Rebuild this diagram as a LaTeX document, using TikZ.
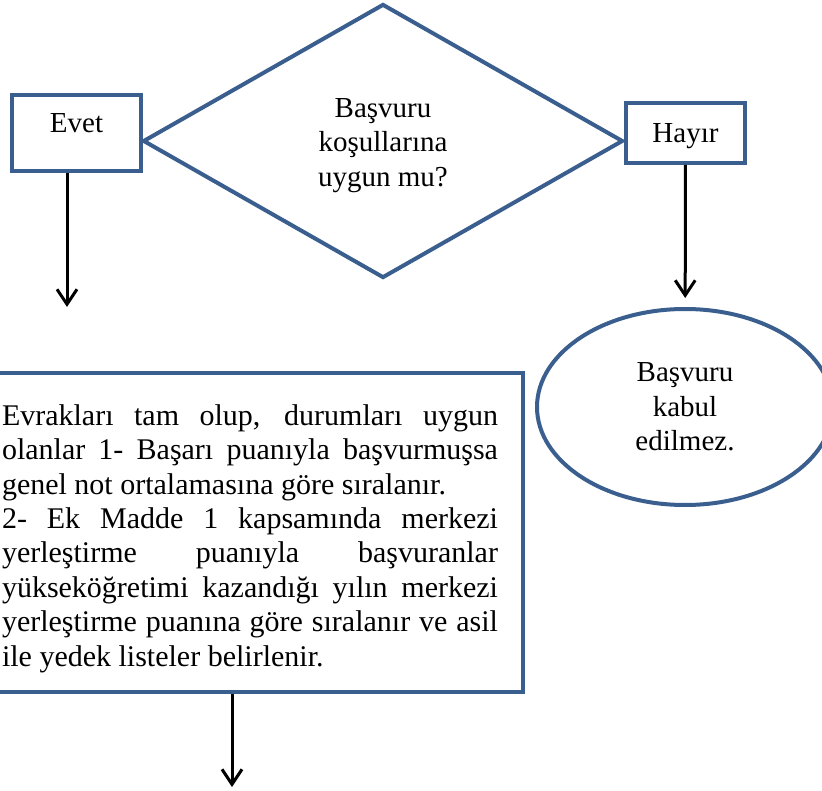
\documentclass[tikz,border=0pt]{standalone}
\usepackage{fontspec}
\setmainfont{Liberation Serif}
\usetikzlibrary{shapes.geometric,arrows.meta}
\definecolor{kutumavi}{HTML}{3A5F8F}
\setlength{\parindent}{0pt}
\hyphenpenalty=10000
\begin{document}
\begin{tikzpicture}[x=1pt,y=-1pt,
  kutu/.style={draw=kutumavi,line width=4pt,inner sep=0pt,
    font=\fontsize{29}{34.4}\selectfont},
  ok/.style={draw=black,line width=3pt,-{Straight Barb[length=15pt,width=20pt]}}]
\useasboundingbox (0,0) rectangle (822,791);
\node[kutu,diamond,minimum width=480pt,minimum height=274pt,align=center] (soru) at (383,141)
  {\rule{0pt}{28pt}Başvuru\\koşullarına\\uygun mu?};
\node[kutu,minimum width=129pt,minimum height=76pt,text depth=20pt] (evet) at (76.5,133) {Evet};
\node[kutu,minimum width=119pt,minimum height=60pt,text depth=0pt] (hayir) at (685.5,133) {Hayır};
\node[kutu,ellipse,minimum width=296pt,minimum height=196pt,align=center] (ret) at (685,407)
  {Başvuru\\kabul\\edilmez.};
\node[kutu,text width=496pt,inner xsep=25pt,minimum height=319pt,align=justify,
  font=\fontsize{30}{34.4}\selectfont] (liste) at (250,532.5)
  {\rule{0pt}{33pt}Evrakları tam olup, durumları uygun\linebreak
   olanlar 1- Başarı puanıyla başvurmuşsa\linebreak
   genel not ortalamasına göre sıralanır.\\
   2- Ek Madde 1 kapsamında merkezi\linebreak
   yerleştirme puanıyla başvuranlar\linebreak
   yükseköğretimi kazandığı yılın merkezi\linebreak
   yerleştirme puanına göre sıralanır ve asil\linebreak
   ile yedek listeler belirlenir.};
\coordinate (evetuc) at (67,307);
\coordinate (listeuc) at (232,787);
\draw[ok] (evetuc |- evet.south) -- (evetuc);
\draw[ok,shorten >=9pt] (hayir) -- (ret);
\draw[ok] (listeuc |- liste.south) -- (listeuc);
\end{tikzpicture}
\end{document}
